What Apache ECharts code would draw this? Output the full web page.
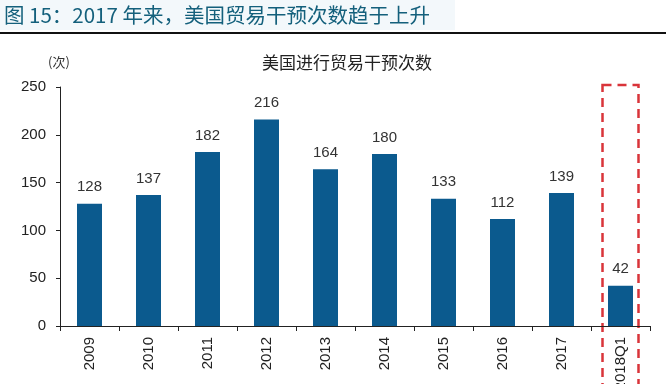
<!DOCTYPE html>
<html><head><meta charset="utf-8">
<script src="https://cdn.jsdelivr.net/npm/echarts@6/dist/echarts.min.js"></script>
<style>html,body{margin:0;padding:0;background:#fff}#c{width:666px;height:384px}</style>
</head><body><div id="c"></div>
<script>
const categories = ['2009','2010','2011','2012','2013','2014','2015','2016','2017','2018Q1'];
const values = [128,137,182,216,164,180,133,112,139,42];
const yTicks = {min:0, max:250, interval:50};
const headerText = '图 15：2017 年来，美国贸易干预次数趋于上升';
const chartTitle = '美国进行贸易干预次数';
const unitText = '(次)';
const highlightCategory = '2018Q1';

const numFont = '"Liberation Sans", Arial, sans-serif';
const cjkFont = '"Noto Sans CJK SC", sans-serif';
const chart = echarts.init(document.getElementById('c'));
const option = {
  animation:false,
  backgroundColor:'#fff',
  grid:{left:60, right:16, top:87, bottom:58, containLabel:false, outerBoundsMode:'none'},
  title:{text:chartTitle, left:342, top:49, textAlign:'center',
    textStyle:{fontFamily:cjkFont, fontSize:17, fontWeight:'normal', color:'#222'}},
  xAxis:{type:'category', data:categories,
    axisLine:{lineStyle:{color:'#222', width:1}},
    axisTick:{show:true, length:5, lineStyle:{color:'#222'}},
    axisLabel:{rotate:90, margin:11, fontFamily:numFont, fontSize:15, color:'#222'}},
  yAxis:{type:'value', min:yTicks.min, max:yTicks.max, interval:yTicks.interval,
    splitLine:{show:false},
    axisLine:{show:true, lineStyle:{color:'#222', width:1}},
    axisTick:{show:true, length:4, lineStyle:{color:'#222'}},
    axisLabel:{margin:14, fontFamily:numFont, fontSize:15, color:'#222'}},
  series:[{type:'bar', data:values, barWidth:25,
    itemStyle:{color:'#0b5a8e'},
    label:{show:true, position:'top', distance:9, fontFamily:numFont, fontSize:15, color:'#333'}}]
};
chart.setOption(option);
const p = chart.convertToPixel({xAxisIndex:0, yAxisIndex:0}, [highlightCategory, yTicks.max]);
const cx = p[0];
chart.setOption({graphic:[
  {type:'rect', shape:{x:0,y:0,width:455,height:30}, style:{fill:'#f3f8fb'}, silent:true, z:-1},
  {type:'text', x:4, y:15, style:{text:headerText, fontFamily:cjkFont, fontSize:20.5, fill:'#14607c', verticalAlign:'middle'}},
  {type:'line', shape:{x1:0,y1:33,x2:666,y2:33}, style:{stroke:'#111', lineWidth:2}},
  {type:'text', x:48, y:62, style:{text:unitText, fontFamily:cjkFont, fontSize:13, fill:'#333', verticalAlign:'middle'}},
  {type:'rect', shape:{x:cx-18, y:85, width:36, height:320},
    style:{fill:'none', stroke:'#d9343a', lineWidth:2.5, lineDash:[9,6]}}
]});
</script></body></html>
